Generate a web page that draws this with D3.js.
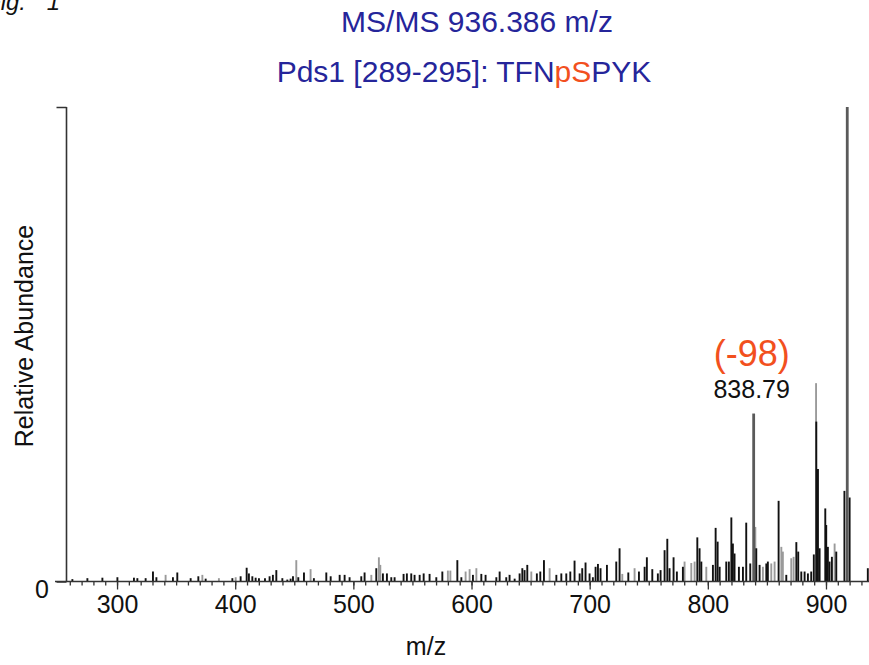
<!DOCTYPE html>
<html>
<head>
<meta charset="utf-8">
<script src="https://d3js.org/d3.v7.min.js"></script>
<style>
  body { margin: 0; background: #fff; }
  svg text { font-family: "Liberation Sans", Arial, sans-serif; }
</style>
</head>
<body>
<div id="chart"></div>
<script>
// peaks: m/z and relative abundance (%)
const blackMz = [262.2, 274.9, 287.6, 300.3, 314.3, 317.2, 324.2, 330.4, 333.3, 347.3, 351.0, 362.3, 368.8, 375.0,
  397.6, 404.6, 409.7, 411.6, 414.5, 417.3, 420.1, 425.2, 429.1, 431.9, 434.8, 439.9, 444.1, 446.9, 448.9, 453.4,
  458.2, 466.6, 477.1, 480.8, 488.4, 492.6, 496.8, 506.7, 509.5, 519.4, 525.0, 528.4, 532.1, 534.9, 542.5, 545.3,
  549.0, 551.8, 556.1, 559.5, 564.5, 570.2, 575.3, 588.0, 591.4, 601.2, 608.3, 611.9, 621.0, 623.8, 629.4, 632.2,
  636.5, 640.7, 643.0, 644.9, 647.2, 655.3, 658.2, 661.3, 671.8, 676.0, 680.2, 683.6, 687.2, 691.5, 693.7, 696.5,
  699.9, 702.7, 705.0, 707.0, 709.2, 714.6, 722.5, 725.3, 732.7, 741.7, 746.5, 748.4, 753.0, 757.7, 760.0, 763.4,
  765.7, 767.6, 771.0, 773.8, 778.9, 791.1, 793.0, 794.5, 804.3, 806.6, 808.3, 810.0, 815.6, 817.8, 819.9, 821.2,
  822.6, 826.3, 829.7, 832.5, 835.9, 841.0, 843.8, 849.5, 850.8, 859.9, 866.4, 874.9, 876.5, 879.1, 881.9, 884.7,
  887.5, 889.7, 891.8, 893.2, 894.6, 899.4, 900.2, 901.6, 903.0, 905.0, 908.7, 915.6, 920.0, 935.4];
const blackAb = [0.5, 0.7, 0.8, 0.9, 0.8, 0.7, 0.7, 2.1, 0.9, 0.9, 1.9, 0.7, 1.1, 0.6,
  0.7, 1.1, 2.9, 1.7, 1.1, 0.8, 0.7, 0.7, 1.1, 1.4, 2.4, 0.7, 0.4, 0.6, 1.1, 0.9,
  1.9, 0.7, 1.9, 1.1, 1.4, 1.4, 0.9, 1.1, 1.9, 2.8, 1.7, 1.7, 0.9, 0.9, 1.6, 1.7,
  1.7, 1.4, 1.4, 1.7, 1.6, 0.9, 2.1, 4.5, 0.9, 1.4, 1.6, 1.4, 0.9, 2.1, 0.9, 1.4,
  0.6, 1.7, 2.8, 2.4, 3.5, 1.7, 2.1, 4.5, 1.4, 1.7, 1.7, 2.1, 4.4, 1.7, 2.8, 4.0,
  1.7, 0.9, 3.1, 3.7, 2.8, 3.5, 4.2, 7.0, 1.9, 2.1, 3.1, 5.1, 2.6, 1.7, 2.4, 6.6,
  9.0, 2.8, 5.1, 2.1, 3.1, 9.3, 7.0, 4.2, 3.5, 11.3, 8.4, 3.1, 4.2, 4.2, 13.5, 8.0,
  5.9, 3.1, 3.1, 12.4, 3.8, 7.0, 3.5, 3.8, 4.2, 17.0, 1.4, 8.3, 6.3, 2.1, 2.1, 1.7,
  2.1, 5.7, 33.7, 23.7, 7.0, 15.4, 11.9, 7.3, 4.2, 5.2, 6.3, 19.1, 17.7, 2.8];

const greyMz = [341.1, 372.2, 386.2, 400.4, 451.7, 463.8, 515.2, 521.6, 522.8, 580.0, 582.1, 595.0, 598.4, 604.1,
  650.6, 666.1, 727.6, 738.0, 780.3, 786.0, 788.8, 798.7, 840.2, 846.6, 853.7, 856.5, 862.2, 863.5, 870.6, 872.6,
  891.6, 907.3];
const greyAb = [1.4, 1.4, 0.7, 0.9, 4.5, 2.6, 1.4, 5.1, 3.5, 2.3, 2.3, 2.1, 2.6, 2.8,
  2.1, 2.8, 1.6, 2.8, 4.2, 3.9, 4.2, 3.1, 11.5, 3.1, 3.8, 4.2, 7.3, 6.3, 4.9, 5.2,
  41.8, 8.0];

const darkMz = [838.79, 918.0];
const darkAb = [35.4, 100];

const majorTicks = [300, 400, 500, 600, 700, 800, 900];
const minorTicks = d3.range(260, 940, 10);

const width = 869;
const height = 665;

const svg = d3.select("#chart").append("svg").attr("width", width).attr("height", height);

const x = d3.scaleLinear().domain([256.8, 936.4]).range([66, 869]);
const y = d3.scaleLinear().domain([0, 100]).range([581.5, 107]);

const axisColor = "#333";

// peaks
function drawPeaks(mz, ab, color, w) {
  svg
    .append("g")
    .selectAll("line")
    .data(mz.map((m, i) => ({ mz: m, ab: ab[i] })))
    .enter()
    .append("line")
    .attr("x1", (d) => x(d.mz))
    .attr("x2", (d) => x(d.mz))
    .attr("y1", y(0))
    .attr("y2", (d) => y(d.ab))
    .attr("stroke", color)
    .attr("stroke-width", w);
}
drawPeaks(greyMz, greyAb, "#9a9a9a", 1.9);
drawPeaks(blackMz, blackAb, "#111", 1.9);
drawPeaks(darkMz, darkAb, "#5a5a5a", 2.8);

// x axis: minor ticks, then major ticks with labels
const xMinor = svg
  .append("g")
  .attr("transform", `translate(0, ${y(0)})`)
  .call(d3.axisBottom(x).tickValues(minorTicks).tickSize(4).tickFormat(""));
const xMajor = svg
  .append("g")
  .attr("transform", `translate(0, ${y(0)})`)
  .call(d3.axisBottom(x).tickValues(majorTicks).tickSize(8).tickPadding(5.5).tickFormat(d3.format("d")));
[xMinor, xMajor].forEach((g) => {
  g.select(".domain").remove();
  g.selectAll(".tick line").attr("stroke", axisColor).attr("stroke-width", 1.3);
});
xMajor.selectAll(".tick text").attr("font-size", 25).attr("fill", "#111");

// y axis
const yAxis = svg
  .append("g")
  .attr("transform", "translate(66.5, 0)")
  .call(d3.axisLeft(y).tickValues([0, 100]).tickSize(10).tickPadding(7.5).tickFormat((d) => (d === 0 ? "0" : "")));
yAxis.select(".domain").remove();
yAxis.selectAll(".tick line").attr("stroke", axisColor).attr("stroke-width", 1.5);
yAxis.selectAll(".tick text").attr("font-size", 25).attr("fill", "#111").attr("dy", "0.64em");

svg.append("line").attr("x1", 55).attr("x2", width).attr("y1", y(0)).attr("y2", y(0))
  .attr("stroke", axisColor).attr("stroke-width", 1.6);
svg.append("line").attr("x1", 66.5).attr("x2", 66.5).attr("y1", y(100)).attr("y2", y(0))
  .attr("stroke", axisColor).attr("stroke-width", 1.6);

// labels
svg.append("text").attr("x", 426).attr("y", 655).attr("text-anchor", "middle")
  .attr("font-size", 25).attr("fill", "#111").text("m/z");
svg.append("text").attr("transform", "translate(33, 336) rotate(-90)").attr("text-anchor", "middle")
  .attr("font-size", 25).attr("fill", "#111").text("Relative Abundance");

// titles
const blue = "#25259a";
const orange = "#f2501e";
svg.append("text").attr("x", 477).attr("y", 31.5).attr("text-anchor", "middle")
  .attr("font-size", 30).attr("fill", blue).text("MS/MS 936.386 m/z");
const t2 = svg.append("text").attr("x", 464).attr("y", 81.5).attr("text-anchor", "middle")
  .attr("font-size", 30).attr("fill", blue);
t2.append("tspan").text("Pds1 [289-295]: TFN");
t2.append("tspan").attr("fill", orange).text("pS");
t2.append("tspan").text("PYK");

svg.append("text").attr("x", -14).attr("y", 10).attr("font-size", 24).attr("font-style", "italic")
  .attr("word-spacing", 14).attr("fill", "#111").text("Fig. 1");

// annotation on the neutral-loss peak
svg.append("text").attr("x", x(838.79) - 2).attr("y", 366).attr("text-anchor", "middle")
  .attr("font-size", 36).attr("fill", orange).text("(-98)");
svg.append("text").attr("x", x(838.79) - 2).attr("y", 398).attr("text-anchor", "middle")
  .attr("font-size", 25).attr("fill", "#111").text("838.79");
</script>
</body>
</html>
